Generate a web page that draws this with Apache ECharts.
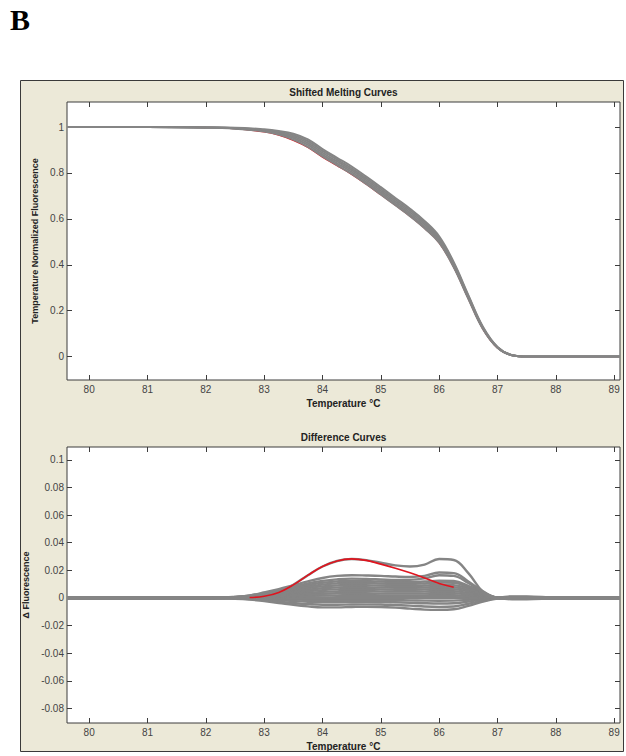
<!DOCTYPE html>
<html>
<head>
<meta charset="utf-8">
<script src="https://cdn.jsdelivr.net/npm/echarts@6/dist/echarts.min.js"></script>
<style>
html,body{margin:0;padding:0;background:#fff;}
#chart{width:626px;height:756px;}
</style>
</head>
<body>
<div id="chart"></div>
<script>
// ---- Shifted melting curves (temperature-normalized fluorescence) ----
const meltTemps = [79.62, 80, 81, 82, 82.5, 83, 83.25, 83.5, 83.75, 84, 84.25, 84.5, 84.75, 85, 85.25, 85.5, 85.75, 86, 86.25, 86.5, 86.75, 87, 87.25, 87.5, 88, 89, 89.1];
const meltRed = [1, 1, 1, 0.998, 0.993, 0.979, 0.965, 0.942, 0.911, 0.869, 0.832, 0.794, 0.751, 0.705, 0.659, 0.612, 0.559, 0.496, 0.389, 0.252, 0.120, 0.038, 0.006, 0, 0, 0, 0];
const meltGrayA = [1, 1, 1, 0.998, 0.993, 0.980, 0.967, 0.945, 0.914, 0.872, 0.834, 0.796, 0.752, 0.706, 0.659, 0.612, 0.559, 0.496, 0.389, 0.252, 0.120, 0.038, 0.006, 0, 0, 0, 0];
const meltGrayB = [1, 1, 1, 0.998, 0.994, 0.983, 0.971, 0.952, 0.922, 0.880, 0.842, 0.804, 0.760, 0.714, 0.667, 0.620, 0.567, 0.503, 0.394, 0.256, 0.123, 0.039, 0.006, 0, 0, 0, 0];
const meltGrayC = [1, 1, 1, 0.998, 0.995, 0.985, 0.975, 0.958, 0.930, 0.888, 0.850, 0.812, 0.768, 0.722, 0.675, 0.628, 0.575, 0.510, 0.400, 0.260, 0.125, 0.040, 0.006, 0, 0, 0, 0];
const meltGrayD = [1, 1, 1, 0.998, 0.996, 0.987, 0.979, 0.964, 0.938, 0.896, 0.858, 0.820, 0.776, 0.730, 0.683, 0.636, 0.583, 0.517, 0.406, 0.264, 0.127, 0.041, 0.006, 0, 0, 0, 0];
const meltGrayE = [1, 1, 1, 0.998, 0.997, 0.990, 0.983, 0.971, 0.946, 0.904, 0.866, 0.828, 0.784, 0.738, 0.691, 0.644, 0.591, 0.524, 0.411, 0.268, 0.130, 0.042, 0.006, 0, 0, 0, 0];
const meltGray = [meltGrayA, meltGrayB, meltGrayC, meltGrayD, meltGrayE];

// ---- Difference curves (delta fluorescence vs. reference) ----
const diffTemps = [79.62, 80, 81, 82, 82.5, 82.75, 83, 83.25, 83.5, 83.75, 84, 84.25, 84.5, 84.75, 85, 85.25, 85.5, 85.75, 86, 86.25, 86.5, 86.75, 87, 87.25, 87.5, 88, 89, 89.1];
// red trace is shown only where it stands clear of the gray bundle
const diffRed = [null, null, null, null, null, 0.0003, 0.0012, 0.0040, 0.0095, 0.0165, 0.0228, 0.0268, 0.0283, 0.0272, 0.0245, 0.0215, 0.0182, 0.0145, 0.0105, 0.0078, null, null, null, null, null, null, null, null];
const diffOutlier = [0, 0, 0, 0, 0, 0.0003, 0.0012, 0.0040, 0.0095, 0.0165, 0.0228, 0.0268, 0.0282, 0.0274, 0.0255, 0.0236, 0.0228, 0.0242, 0.0282, 0.0275, 0.0180, 0.0045, -0.0005, 0, 0, 0, 0, 0];
const diff00 = [0, 0, 0, 0, 0.0008, 0.0019, 0.0040, 0.0064, 0.0092, 0.0120, 0.0145, 0.0160, 0.0165, 0.0163, 0.0160, 0.0155, 0.0152, 0.0160, 0.0185, 0.0180, 0.0120, 0.0048, 0.0003, 0, 0, 0, 0, 0];
const diff01 = [0, 0, 0, 0, 0.0007, 0.0017, 0.0036, 0.0057, 0.0082, 0.0106, 0.0124, 0.0135, 0.0140, 0.0138, 0.0134, 0.0130, 0.0131, 0.0142, 0.0165, 0.0160, 0.0108, 0.0042, 0.0003, 0, 0, 0, 0, 0];
const diff02 = [0, 0, 0, 0, 0.0006, 0.0015, 0.0031, 0.0050, 0.0072, 0.0094, 0.0110, 0.0120, 0.0125, 0.0123, 0.0119, 0.0115, 0.0115, 0.0119, 0.0125, 0.0123, 0.0088, 0.0038, 0.0002, 0, 0, 0, 0, 0];
const diff03 = [0, 0, 0, 0, 0.0006, 0.0013, 0.0028, 0.0044, 0.0064, 0.0083, 0.0097, 0.0106, 0.0110, 0.0108, 0.0105, 0.0101, 0.0101, 0.0105, 0.0112, 0.0110, 0.0078, 0.0033, 0.0002, 0, 0, 0, 0, 0];
const diff04 = [0, 0, 0, 0, 0.0005, 0.0011, 0.0024, 0.0038, 0.0055, 0.0071, 0.0084, 0.0091, 0.0095, 0.0093, 0.0090, 0.0087, 0.0087, 0.0090, 0.0095, 0.0093, 0.0067, 0.0029, 0.0002, 0, 0, 0, 0, 0];
const diff05 = [0, 0, 0, 0, 0.0004, 0.0010, 0.0020, 0.0032, 0.0046, 0.0060, 0.0070, 0.0077, 0.0080, 0.0078, 0.0076, 0.0074, 0.0074, 0.0076, 0.0080, 0.0078, 0.0056, 0.0024, 0.0002, 0, 0, 0, 0, 0];
const diff06 = [0, 0, 0, 0, 0.0003, 0.0008, 0.0016, 0.0026, 0.0038, 0.0049, 0.0057, 0.0062, 0.0065, 0.0064, 0.0062, 0.0060, 0.0060, 0.0062, 0.0065, 0.0064, 0.0046, 0.0020, 0.0001, 0, 0, 0, 0, 0];
const diff07 = [0, 0, 0, 0, 0.0003, 0.0006, 0.0013, 0.0020, 0.0029, 0.0038, 0.0044, 0.0048, 0.0050, 0.0049, 0.0048, 0.0046, 0.0046, 0.0048, 0.0050, 0.0049, 0.0035, 0.0015, 0.0001, 0, 0, 0, 0, 0];
const diff08 = [0, 0, 0, 0.0002, 0.0002, 0.0004, 0.0009, 0.0014, 0.0020, 0.0026, 0.0031, 0.0034, 0.0035, 0.0034, 0.0033, 0.0032, 0.0032, 0.0033, 0.0035, 0.0034, 0.0025, 0.0011, 0.0001, 0.0008, 0.0008, 0.0001, 0, 0];
const diff09 = [0, 0, 0, 0.0001, 0.0001, 0.0002, 0.0005, 0.0008, 0.0012, 0.0015, 0.0018, 0.0019, 0.0020, 0.0020, 0.0019, 0.0018, 0.0018, 0.0019, 0.0020, 0.0020, 0.0014, 0.0006, 0.0003, 0.0012, 0.0012, 0.0002, 0, 0];
const diff10 = [0, 0, 0.0001, 0.0002, 0.0001, 0.0001, 0.0001, 0.0002, 0.0003, 0.0004, 0.0004, 0.0005, 0.0005, 0.0005, 0.0005, 0.0005, 0.0005, 0.0005, 0.0005, 0.0005, 0.0004, 0.0002, 0, 0.0004, 0.0004, 0, 0, 0];
const diff11 = [0, 0, 0, 0, 0, 0, 0, 0, 0, 0, 0, 0, 0, 0, 0, 0, 0, 0, 0, 0, 0, 0, 0, 0, 0, 0, 0, 0];
const diff12 = [0, 0, -0.0001, -0.0002, -0.0001, -0.0002, -0.0005, -0.0008, -0.0011, -0.0014, -0.0015, -0.0015, -0.0014, -0.0014, -0.0014, -0.0016, -0.0017, -0.0019, -0.0020, -0.0019, -0.0013, -0.0006, -0.0003, -0.0009, -0.0009, -0.0002, 0, 0];
const diff13 = [0, 0, 0, -0.0001, -0.0002, -0.0005, -0.0010, -0.0016, -0.0022, -0.0027, -0.0030, -0.0030, -0.0029, -0.0028, -0.0029, -0.0031, -0.0034, -0.0038, -0.0040, -0.0038, -0.0026, -0.0012, -0.0002, -0.0004, -0.0004, 0, 0, 0];
const diff14 = [0, 0, 0, 0, -0.0003, -0.0008, -0.0016, -0.0026, -0.0036, -0.0044, -0.0049, -0.0049, -0.0047, -0.0046, -0.0047, -0.0051, -0.0055, -0.0062, -0.0065, -0.0062, -0.0042, -0.0020, -0.0003, 0, 0, 0, 0, 0];
const diff15 = [0, 0, 0, 0, -0.0005, -0.0011, -0.0023, -0.0036, -0.0050, -0.0061, -0.0068, -0.0068, -0.0065, -0.0063, -0.0065, -0.0070, -0.0077, -0.0084, -0.0086, -0.0082, -0.0057, -0.0026, -0.0005, 0, 0, 0, 0, 0];
const diffGray = [diff15, diff14, diff13, diff12, diff11, diff10, diff09, diff08, diff07, diff06, diff05, diff04, diff03, diff02, diff01, diff00, diffOutlier];

// ---- Tick labels ----
const tempTicks = [80, 81, 82, 83, 84, 85, 86, 87, 88, 89];
const meltTicks = [0, 0.2, 0.4, 0.6, 0.8, 1];
const diffTicks = [-0.08, -0.06, -0.04, -0.02, 0, 0.02, 0.04, 0.06, 0.08, 0.1];

const FONT = 'Liberation Sans, Arial, Helvetica, sans-serif';
const AXIS = '#3c3c3c';
const GRAY = '#858585';
const RED = '#e0141e';

const pairs = (xs, ys) => xs.map((x, i) => [x, ys[i]]);

function xAxisCfg(grid, pos, withLabels) {
  return {
    type: 'value', gridIndex: grid, position: pos,
    min: 79.62, max: 89.1,
    axisLine: { show: false, onZero: false },
    splitLine: { show: false },
    axisTick: { inside: true, length: 5, customValues: tempTicks, lineStyle: { color: AXIS } },
    axisLabel: withLabels
      ? { customValues: tempTicks, fontSize: 10, color: '#444', fontFamily: FONT, margin: 4 }
      : { show: false },
    name: withLabels ? 'Temperature °C' : '',
    nameLocation: 'middle', nameGap: 18,
    nameTextStyle: { fontSize: 10, fontWeight: 'bold', color: '#222', fontFamily: FONT }
  };
}

function yAxisCfg(grid, pos, min, max, ticks, name, gap) {
  const withLabels = pos === 'left';
  return {
    type: 'value', gridIndex: grid, position: pos,
    min: min, max: max,
    axisLine: { show: false, onZero: false },
    splitLine: { show: false },
    axisTick: { inside: true, length: 5, customValues: ticks, lineStyle: { color: AXIS } },
    axisLabel: withLabels
      ? { customValues: ticks, fontSize: 10, color: '#444', fontFamily: FONT, margin: 3 }
      : { show: false },
    name: withLabels ? name : '',
    nameLocation: 'middle', nameRotate: 90, nameGap: gap,
    nameTextStyle: { fontSize: 9, fontWeight: 'bold', color: '#222', fontFamily: FONT }
  };
}

function line(xIdx, yIdx, xs, ys, color, width) {
  return {
    type: 'line', xAxisIndex: xIdx, yAxisIndex: yIdx,
    data: pairs(xs, ys), showSymbol: false, smooth: 0.4, connectNulls: false,
    lineStyle: { color: color, width: width }, silent: true
  };
}

const series = [];
// melting panel: red trace sits beneath the gray bundle
series.push(line(0, 0, meltTemps, meltRed, RED, 1.4));
meltGray.forEach(c => series.push(line(0, 0, meltTemps, c, GRAY, 2)));
// difference panel: gray bundle, red trace drawn on top
diffGray.forEach(c => series.push(line(2, 2, diffTemps, c, GRAY, 2.4)));
series.push(line(2, 2, diffTemps, diffRed, RED, 1.6));

const chart = echarts.init(document.getElementById('chart'), null, { renderer: 'svg' });
chart.setOption({
  animation: false,
  backgroundColor: '#ffffff',
  graphic: [
    { type: 'rect', z: -10, shape: { x: 20.5, y: 80.5, width: 603, height: 671 },
      style: { fill: '#ECE9D8', stroke: '#3a3a3a', lineWidth: 1 } },
    { type: 'text', left: 10, top: 4,
      style: { text: 'B', font: 'bold 30px "Liberation Serif", "Times New Roman", serif', fill: '#000' } },
    { type: 'text', x: 343.5, y: 92,
      style: { text: 'Shifted Melting Curves', font: 'bold 10px ' + FONT, fill: '#222', align: 'center', verticalAlign: 'middle' } },
    { type: 'text', x: 343.5, y: 437,
      style: { text: 'Difference Curves', font: 'bold 10px ' + FONT, fill: '#222', align: 'center', verticalAlign: 'middle' } }
  ],
  grid: [
    { left: 67, top: 102, width: 553, height: 278, show: true, backgroundColor: '#ffffff', borderColor: AXIS, borderWidth: 1 },
    { left: 67, top: 447, width: 553, height: 276, show: true, backgroundColor: '#ffffff', borderColor: AXIS, borderWidth: 1 }
  ],
  xAxis: [
    xAxisCfg(0, 'bottom', true),
    xAxisCfg(0, 'top', false),
    xAxisCfg(1, 'bottom', true),
    xAxisCfg(1, 'top', false)
  ],
  yAxis: [
    yAxisCfg(0, 'left', -0.102, 1.109, meltTicks, 'Temperature Normalized Fluorescence', 22),
    yAxisCfg(0, 'right', -0.102, 1.109, meltTicks, '', 0),
    yAxisCfg(1, 'left', -0.0905, 0.1093, diffTicks, 'Δ Fluorescence', 29),
    yAxisCfg(1, 'right', -0.0905, 0.1093, diffTicks, '', 0)
  ],
  series: series
});
</script>
</body>
</html>
